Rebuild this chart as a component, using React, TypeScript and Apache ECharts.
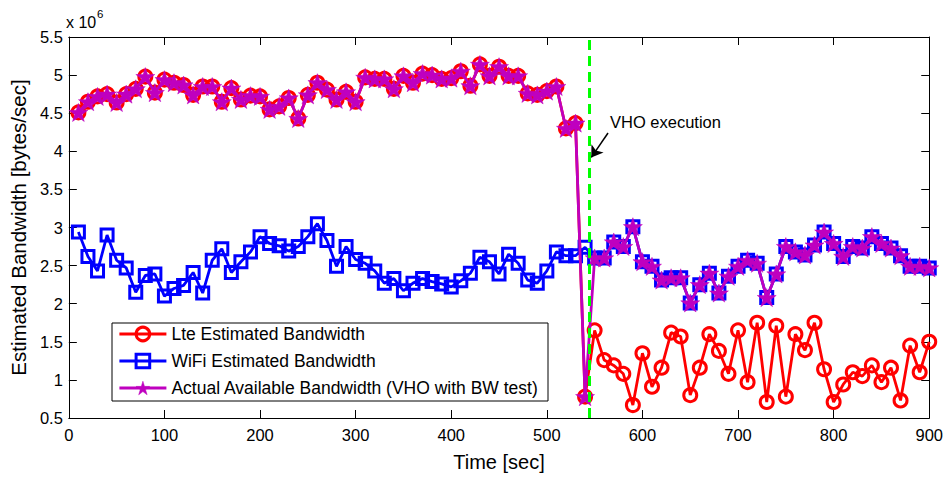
import React, { useEffect, useRef } from "react";
import * as echarts from "echarts";

// ---- data (bandwidth in units of 10^6 bytes/sec) ----
const timeSec = [
  10, 20, 30, 40, 50, 60, 70, 80, 90, 100,
  110, 120, 130, 140, 150, 160, 170, 180, 190, 200,
  210, 220, 230, 240, 250, 260, 270, 280, 290, 300,
  310, 320, 330, 340, 350, 360, 370, 380, 390, 400,
  410, 420, 430, 440, 450, 460, 470, 480, 490, 500,
  510, 520, 530, 540, 550, 560, 570, 580, 590, 600,
  610, 620, 630, 640, 650, 660, 670, 680, 690, 700,
  710, 720, 730, 740, 750, 760, 770, 780, 790, 800,
  810, 820, 830, 840, 850, 860, 870, 880, 890, 900,
];

const lteBandwidth = [
  4.51, 4.65, 4.72, 4.75, 4.64, 4.75, 4.82, 4.98, 4.77, 4.94,
  4.90, 4.87, 4.74, 4.85, 4.85, 4.65, 4.83, 4.68, 4.73, 4.72,
  4.55, 4.59, 4.70, 4.43, 4.74, 4.90, 4.81, 4.68, 4.78, 4.65,
  4.97, 4.95, 4.95, 4.82, 4.99, 4.90, 5.02, 5.00, 4.95, 4.96,
  5.05, 4.86, 5.14, 4.99, 5.11, 4.99, 4.99, 4.76, 4.74, 4.79,
  4.85, 4.30, 4.37, 0.78, 1.65, 1.26, 1.19, 1.08, 0.67, 1.35,
  0.91, 1.16, 1.62, 1.57, 0.80, 1.16, 1.60, 1.38, 1.08, 1.65,
  0.97, 1.75, 0.71, 1.71, 0.78, 1.60, 1.39, 1.75, 1.14, 0.71,
  0.94, 1.10, 1.05, 1.19, 0.97, 1.16, 0.73, 1.45, 1.10, 1.50,
];

const wifiBandwidth = [
  2.94, 2.62, 2.43, 2.90, 2.57, 2.47, 2.15, 2.37, 2.39, 2.10,
  2.20, 2.24, 2.41, 2.14, 2.57, 2.72, 2.41, 2.55, 2.68, 2.88,
  2.79, 2.76, 2.69, 2.75, 2.88, 3.05, 2.83, 2.49, 2.75, 2.58,
  2.53, 2.43, 2.27, 2.33, 2.17, 2.27, 2.33, 2.29, 2.26, 2.22,
  2.30, 2.40, 2.61, 2.55, 2.39, 2.65, 2.53, 2.31, 2.27, 2.43,
  2.68, 2.63, 2.63, 2.74, 2.60, 2.60, 2.81, 2.75, 3.01, 2.55,
  2.49, 2.31, 2.34, 2.34, 2.01, 2.25, 2.40, 2.14, 2.36, 2.49,
  2.57, 2.53, 2.08, 2.39, 2.75, 2.68, 2.64, 2.77, 2.94, 2.79,
  2.62, 2.75, 2.73, 2.88, 2.79, 2.73, 2.63, 2.49, 2.49, 2.47,
];

// last sample still served by LTE; VHO marker time
const lastLteSample = 540;
const vhoTime = 544;
const arrowTail = [564, 4.24];
const arrowHead = [546.5, 3.92];

const seriesNames = [
  "Lte Estimated Bandwidth",
  "WiFi Estimated Bandwidth",
  "Actual Available Bandwidth (VHO with BW test)",
];
const xAxisName = "Time [sec]";
const yAxisName = "Estimated Bandwidth [bytes/sec]";
const annotationText = "VHO execution";

const X_MIN = 0, X_MAX = 900, X_STEP = 100;
const Y_MIN = 0.5, Y_MAX = 5.5, Y_STEP = 0.5;

const FONT = "'Liberation Sans', Arial, Helvetica, sans-serif";
const STAR =
  "path://M0,-10L2.245,-3.09L9.511,-3.09L3.633,1.18L5.878,8.09L0,3.82L-5.878,8.09L-3.633,1.18L-9.511,-3.09L-2.245,-3.09Z";

export default function App() {
  const ref = useRef<HTMLDivElement>(null);

  useEffect(() => {
    if (!ref.current) return;
    const chart = echarts.init(ref.current, undefined, { renderer: "svg" });

    const lteData = timeSec.map((t, i) => [t, lteBandwidth[i]]);
    const wifiData = timeSec.map((t, i) => [t, wifiBandwidth[i]]);
    const actualData = timeSec.map((t, i) => [
      t,
      t <= lastLteSample ? lteBandwidth[i] : wifiBandwidth[i],
    ]);

    const axisCommon = {
      type: "value" as const,
      axisLine: { show: true, onZero: false, lineStyle: { color: "#000", width: 1 } },
      axisTick: { show: true, inside: true, length: 8, lineStyle: { color: "#000", width: 1 } },
      splitLine: { show: false },
    };

    chart.setOption({
      animation: false,
      backgroundColor: "#fff",
      textStyle: { fontFamily: FONT },
      grid: { left: 68, right: 15, top: 37, bottom: 56, containLabel: false },
      xAxis: [
        {
          ...axisCommon,
          position: "bottom",
          min: X_MIN,
          max: X_MAX,
          interval: X_STEP,
          axisLabel: { color: "#000", fontSize: 16.5, fontFamily: FONT, margin: 8 },
          name: xAxisName,
          nameLocation: "middle",
          nameGap: 34,
          nameTextStyle: { color: "#000", fontSize: 20, fontFamily: FONT },
        },
        {
          ...axisCommon,
          position: "top",
          min: X_MIN,
          max: X_MAX,
          interval: X_STEP,
          axisLabel: { show: false },
        },
      ],
      yAxis: [
        {
          ...axisCommon,
          position: "left",
          min: Y_MIN,
          max: Y_MAX,
          interval: Y_STEP,
          axisLabel: { color: "#000", fontSize: 16.5, fontFamily: FONT, margin: 6 },
          name: yAxisName,
          nameLocation: "middle",
          nameGap: 36,
          nameTextStyle: { color: "#000", fontSize: 20.5, fontFamily: FONT },
        },
        {
          ...axisCommon,
          position: "right",
          min: Y_MIN,
          max: Y_MAX,
          interval: Y_STEP,
          axisLabel: { show: false },
        },
      ],
      legend: {
        orient: "vertical",
        left: 118,
        top: 325,
        itemWidth: 47,
        itemHeight: 17,
        itemGap: 9,
        padding: 0,
        lineStyle: { width: 2.8 },
        itemStyle: { borderWidth: "inherit" },
        textStyle: { color: "#000", fontSize: 17.5, fontFamily: FONT },
        data: seriesNames,
      },
      graphic: [
        {
          type: "rect",
          shape: { x: 112, y: 323, width: 436, height: 78 },
          style: { fill: "#fff", stroke: "#000", lineWidth: 1 },
          z: 0,
        },
        {
          type: "text",
          x: 66,
          y: 14,
          style: { text: "x 10", fontSize: 16, fontFamily: FONT, fill: "#000" },
        },
        {
          type: "text",
          x: 97,
          y: 8,
          style: { text: "6", fontSize: 11.5, fontFamily: FONT, fill: "#000" },
        },
        {
          type: "text",
          x: 610,
          y: 113,
          style: { text: annotationText, fontSize: 16.5, fontFamily: FONT, fill: "#000" },
          z: 10,
        },
      ],
      series: [
        {
          name: seriesNames[0],
          type: "line",
          data: lteData,
          symbol: "circle",
          symbolSize: 13,
          lineStyle: { color: "#ff0000", width: 2.8 },
          itemStyle: { color: "rgba(0,0,0,0)", borderColor: "#ff0000", borderWidth: 3 },
          z: 2,
        },
        {
          name: seriesNames[1],
          type: "line",
          data: wifiData,
          symbol: "rect",
          symbolSize: 12,
          lineStyle: { color: "#0000ff", width: 2.8 },
          itemStyle: { color: "rgba(0,0,0,0)", borderColor: "#0000ff", borderWidth: 3 },
          z: 3,
          markLine: {
            silent: true,
            symbol: ["none", "arrow"],
            symbolSize: 11,
            label: { show: false },
            lineStyle: { color: "#000", width: 1.5, type: "solid" },
            data: [[{ coord: arrowTail }, { coord: arrowHead }]],
          },
        },
        {
          name: seriesNames[2],
          type: "line",
          data: actualData,
          symbol: STAR,
          symbolSize: 19,
          symbolKeepAspect: true,
          lineStyle: { color: "#bf00bf", width: 2.8 },
          itemStyle: { color: "#bf00bf", borderColor: "#bf00bf", borderWidth: 0.5 },
          z: 4,
          markLine: {
            silent: true,
            symbol: ["none", "none"],
            label: { show: false },
            lineStyle: { color: "#00ff00", width: 3, type: [10, 6] },
            data: [{ xAxis: vhoTime }],
          },
        },
      ],
    });

    return () => chart.dispose();
  }, []);

  return <div ref={ref} style={{ width: 946, height: 477, position: "absolute", left: 0, top: 0 }} />;
}
